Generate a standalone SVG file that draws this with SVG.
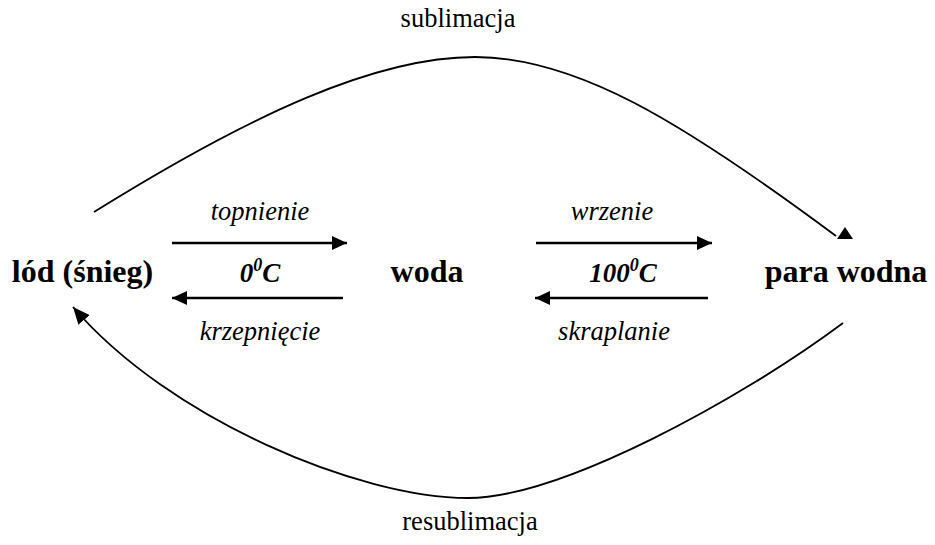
<svg xmlns="http://www.w3.org/2000/svg" width="935" height="545" viewBox="0 0 935 545">
<style>
  text { font-family: "Liberation Serif", "Times New Roman", serif; fill: #000; }
  .node { font-size: 32px; font-weight: bold; text-anchor: middle; }
  .lab { font-size: 26.5px; text-anchor: middle; }
  .it { font-size: 26.5px; font-style: italic; text-anchor: middle; }
  .temp { font-size: 27px; font-style: italic; font-weight: bold; text-anchor: middle; }
  .sup { font-size: 18px; }
  .ln { fill: none; stroke: #000; stroke-width: 2.5; }
  .cv { fill: none; stroke: #000; stroke-width: 1.8; }
</style>
<defs>
  <marker id="ah" markerUnits="userSpaceOnUse" markerWidth="16" markerHeight="14" refX="15" refY="7" orient="auto">
    <path d="M0,0 L15,7 L0,14 z" fill="#000"/>
  </marker>
  <marker id="ah2" markerUnits="userSpaceOnUse" markerWidth="18" markerHeight="15" refX="17" refY="7.5" orient="auto">
    <path d="M0,0 L17,7.5 L0,15 z" fill="#000"/>
  </marker>
</defs>
<rect width="935" height="545" fill="#fff"/>
<g id="connectors">
  <path class="cv" d="M94,212 C250,115 375,57 475,57 C575,57 680,120 836,236"/>
  <polygon points="837,239 853,239 845,227" fill="#000"/>
  <path class="cv" d="M843,323 C740,400 560,498 468,498 C360,498 170,420 73,307" marker-end="url(#ah2)"/>
  <line class="ln" x1="172" y1="243" x2="347" y2="243" marker-end="url(#ah)"/>
  <line class="ln" x1="343" y1="298" x2="172" y2="298" marker-end="url(#ah)"/>
  <line class="ln" x1="536" y1="243" x2="712" y2="243" marker-end="url(#ah)"/>
  <line class="ln" x1="708" y1="298" x2="535" y2="298" marker-end="url(#ah)"/>
</g>
<g id="labels">
  <text class="lab" x="458" y="27">sublimacja</text>
  <text class="lab" x="470" y="530">resublimacja</text>
  <text class="it" x="260" y="220">topnienie</text>
  <text class="it" x="260" y="340">krzepnięcie</text>
  <text class="it" x="612" y="220">wrzenie</text>
  <text class="it" x="614" y="340">skraplanie</text>
  <text class="temp" x="260" y="282">0<tspan class="sup" dy="-11">0</tspan><tspan dy="11">C</tspan></text>
  <text class="temp" x="623" y="282">100<tspan class="sup" dy="-11">0</tspan><tspan dy="11">C</tspan></text>
</g>
<g id="node-lod"><text class="node" x="82.5" y="282">lód (śnieg)</text></g>
<g id="node-woda"><text class="node" x="427" y="282">woda</text></g>
<g id="node-para"><text class="node" x="846" y="282">para wodna</text></g>
</svg>
